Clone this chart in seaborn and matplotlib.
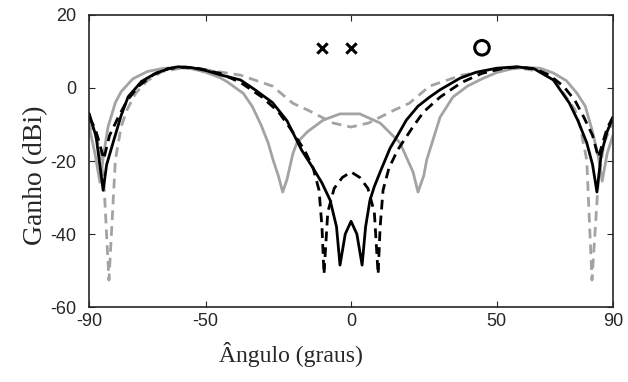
import numpy as np
import matplotlib
matplotlib.use("Agg")
import matplotlib.pyplot as plt
import seaborn as sns

# black solid
ang_bs = [-90, -87.6, -85.2, -84, -81.8, -79, -76.6, -72, -67, -62, -59.5, -55, -50, -45, -38, -33, -27, -22, -17, -13, -10,
          -7.2, -5, -3.8, -2, 0, 2, 3.8, 5, 6.5, 8, 10, 13.4, 16, 19, 23, 27, 30.6, 37.5, 43, 50, 57, 63, 69.5, 75, 78, 81,
          83, 84.5, 86, 88, 90]
gain_bs = [-7, -13.4, -28, -21, -15, -7.5, -2.4, 1.8, 4.1, 5.4, 5.8, 5.6, 4.8, 3.6, 2.2, -0.5, -4, -9, -17, -22, -26,
           -30.7, -38, -48.5, -40, -36.5, -40, -48.5, -38, -30.7, -27, -23, -16.5, -13, -8.8, -5, -2.5, -0.5, 2.7, 4.3,
           5.4, 5.8, 5.2, 2.2, -4.1, -9, -15, -21, -28.5, -18, -12, -8]

# black dashed
ang_bd = [-90, -88, -86.5, -85, -83, -80, -77, -73, -68, -63, -57, -52, -45, -38, -30.6, -25, -21.3, -16, -13, -11, -10,
          -9.3, -8, -5.8, -3, 0, 3, 5.8, 8, 9.3, 10, 11, 13, 16, 21.3, 25, 30.6, 38, 45, 52, 57, 63, 68, 73, 77, 80, 83,
          85, 86.5, 88, 90]
gain_bd = [-8, -11, -15, -19.5, -13, -8, -3.5, 0.5, 3.6, 5.3, 5.7, 5.3, 4, 1.5, -2.5, -6.5, -10.6, -17, -22, -28, -38,
           -51, -34, -27.5, -24.5, -23, -24.5, -27.5, -34, -51, -38, -28, -22, -17, -10.6, -6.5, -2.5, 1.5, 4, 5.3, 5.7,
           5.3, 3.6, 0.5, -3.5, -8, -13, -19, -15, -11, -8]

# gray solid
ang_gs = [-90, -88, -86.3, -85, -83.5, -81, -79, -75, -70, -65, -60, -55, -50, -45, -42.6, -37, -34, -31, -28.5, -26.8,
          -25, -23.5, -22, -20, -18.6, -15, -9.6, -3.8, 0, 3, 10, 16.8, 21.3, 23, 25, 26, 30.6, 35, 40, 45, 50, 55, 60,
          65, 69.5, 74, 77.6, 80.5, 83, 85, 86.3, 88, 90]
gain_gs = [-10.6, -18, -25.8, -18, -10.6, -4, -1, 2.5, 4.5, 5.3, 5.6, 5.3, 4.3, 2.8, 1.7, -1.5, -5, -10, -15, -19.7, -24,
           -28.5, -25, -18, -15, -12, -8.8, -7.1, -7.1, -7.1, -9.6, -15, -23, -28.5, -24, -19.7, -8, -2.5, 0.5, 2.5, 4.2,
           5.2, 5.6, 5.4, 4.1, 2, -1.4, -5, -12, -19, -25.5, -18, -13]

# gray dashed
ang_gd = [-90, -87, -85, -83.2, -81, -79, -77, -74, -70, -65, -57, -50, -38, -27, -20, -15, -6.2, 0, 6, 15, 20, 27, 38,
          50, 57, 65, 70, 73, 77, 78.7, 81, 82.8, 85, 87, 90]
gain_gd = [-9, -15, -25, -52.6, -19.7, -10.6, -6, -1.4, 2, 4.5, 5.6, 5, 3.5, 0.5, -4.2, -6, -9.6, -10.7, -9.6, -6, -4.2,
           0.5, 3.5, 5, 5.6, 4.5, 2, -1.4, -6, -10.6, -19.7, -52.6, -25, -15, -9]

# markers
x_marks = [-10, 0]
o_marks = [45]
mark_gain = 11

gray = "#a3a3a3"

sns.set_style("ticks", {"xtick.direction": "in", "ytick.direction": "in"})
plt.rcParams["font.family"] = ["Liberation Sans", "DejaVu Sans"]
plt.rcParams["axes.unicode_minus"] = False

fig = plt.figure(figsize=(6.28, 3.82), dpi=100)
ax = fig.add_axes([0.142, 0.196, 0.834, 0.765])

lw = 2.0
sns.lineplot(x=ang_gs, y=gain_gs, ax=ax, color=gray, lw=lw, sort=False, estimator=None)
sns.lineplot(x=ang_gd, y=gain_gd, ax=ax, color=gray, lw=lw, ls=(0, (3.5, 2.2)), sort=False, estimator=None)
sns.lineplot(x=ang_bs, y=gain_bs, ax=ax, color="black", lw=lw, sort=False, estimator=None)
sns.lineplot(x=ang_bd, y=gain_bd, ax=ax, color="black", lw=lw, ls=(0, (3.5, 2.2)), sort=False, estimator=None)

ax.scatter(x_marks, [mark_gain] * len(x_marks), marker="x", s=55, color="black", linewidths=2.2, zorder=5)
ax.scatter(o_marks, [mark_gain] * len(o_marks), marker="o", s=110, facecolors="none", edgecolors="black",
           linewidths=2.2, zorder=5)

ax.set_xlim(-90, 90)
ax.set_ylim(-60, 20)
ax.set_xticks([-90, -50, 0, 50, 90])
ax.set_yticks([-60, -40, -20, 0, 20])
ax.tick_params(axis="both", which="both", top=True, right=True, length=4, width=0.8, labelsize=13)
ax.tick_params(axis="x", pad=4)
ax.tick_params(axis="y", pad=9)
for s in ax.spines.values():
    s.set_linewidth(1.2)

ax.set_xlabel("Ângulo (graus)", family=["Liberation Serif", "DejaVu Serif"], fontsize=17)
ax.set_ylabel("Ganho (dBi)", family=["Liberation Serif", "DejaVu Serif"], fontsize=20)
ax.xaxis.set_label_coords(0.385, -0.12)
ax.yaxis.set_label_coords(-0.078, 0.45)

fig.savefig("out.png", dpi=100)
